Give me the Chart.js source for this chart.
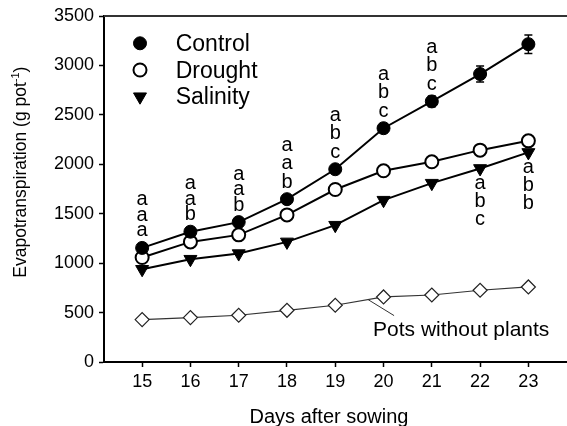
<!DOCTYPE html>
<html>
<head>
<meta charset="utf-8">
<style>
  html, body { margin: 0; padding: 0; background: #fff; }
  #wrap { width: 567px; height: 426px; position: relative; }
</style>
<script src="https://cdn.jsdelivr.net/npm/chart.js"></script>
</head>
<body>
<div id="wrap"><canvas id="etChart"></canvas></div>
<script>
// --- values ---
const days = [15, 16, 17, 18, 19, 20, 21, 22, 23];
const control = [1154, 1318, 1415, 1647, 1950, 2365, 2636, 2913, 3215];
const controlErr = [20, 25, 30, 30, 35, 45, 55, 80, 94];
const drought = [1057, 1215, 1286, 1488, 1745, 1934, 2025, 2143, 2237];
const salinity = [938, 1040, 1097, 1215, 1384, 1637, 1809, 1958, 2120];
const potsNoPlants = [429, 449, 473, 523, 574, 658, 678, 726, 759];
const yTicks = [0, 500, 1000, 1500, 2000, 2500, 3000, 3500];

const seriesNames = ['Control', 'Drought', 'Salinity'];
const potsLabel = 'Pots without plants';
const xTitle = 'Days after sowing';
const yTitle = 'Evapotranspiration (g pot';
const yTitleSup = '-1';

// significance letters, listed top to bottom
const lettersAbove = [
    ['a', 'a', 'a'], ['a', 'a', 'b'], ['a', 'a', 'b'], ['a', 'a', 'b'],
    ['a', 'b', 'c'], ['a', 'b', 'c'], ['a', 'b', 'c'], null, null
];
const lettersBelow = [null, null, null, null, null, null, null, ['a', 'b', 'c'], ['a', 'b', 'b']];

const FONT = "'Liberation Sans', Arial, Helvetica, sans-serif";

const xy = vals => days.map((d, i) => ({ x: d, y: vals[i] }));

// --- extra drawing: frame top, error bars, letters, legend, titles ---
const figureExtras = {
    id: 'figureExtras',
    afterDatasetsDraw(chart) {
        const { ctx, chartArea: area } = chart;
        const x = chart.scales.x, y = chart.scales.y;
        ctx.save();

        // top frame line (right side is cut off in the original)
        ctx.strokeStyle = '#333';
        ctx.lineWidth = 2;
        ctx.beginPath();
        ctx.moveTo(area.left, area.top);
        ctx.lineTo(area.right, area.top);
        ctx.stroke();

        // error bars on Control
        ctx.strokeStyle = '#000';
        ctx.lineWidth = 1.5;
        days.forEach((d, i) => {
            const px = x.getPixelForValue(d);
            const top = y.getPixelForValue(control[i] + controlErr[i]);
            const bot = y.getPixelForValue(control[i] - controlErr[i]);
            ctx.beginPath();
            ctx.moveTo(px, top); ctx.lineTo(px, bot);
            ctx.moveTo(px - 4, top); ctx.lineTo(px + 4, top);
            ctx.moveTo(px - 4, bot); ctx.lineTo(px + 4, bot);
            ctx.stroke();
        });

        // letters
        ctx.fillStyle = '#000';
        ctx.font = '20px ' + FONT;
        ctx.textAlign = 'center';
        ctx.textBaseline = 'alphabetic';
        days.forEach((d, i) => {
            const px = x.getPixelForValue(d);
            if (lettersAbove[i]) {
                const step = d <= 17 ? 15.5 : 18.5;
                const base = y.getPixelForValue(control[i]) - 11.5;
                lettersAbove[i].slice().reverse().forEach((t, k) => ctx.fillText(t, px, base - k * step));
            }
            if (lettersBelow[i]) {
                const base = y.getPixelForValue(salinity[i]) + 21;
                lettersBelow[i].forEach((t, k) => ctx.fillText(t, px, base + k * 18));
            }
        });

        // "Pots without plants" with leader line
        const lx = 19.68;
        const j = days.indexOf(19);
        const ly = potsNoPlants[j] + (potsNoPlants[j + 1] - potsNoPlants[j]) * (lx - days[j]);
        const sx = x.getPixelForValue(lx), sy = y.getPixelForValue(ly);
        ctx.strokeStyle = '#333';
        ctx.lineWidth = 1;
        ctx.beginPath();
        ctx.moveTo(sx, sy);
        ctx.lineTo(sx + 26, sy + 16);
        ctx.stroke();
        ctx.font = '21px ' + FONT;
        ctx.textAlign = 'left';
        ctx.fillText(potsLabel, sx + 5, sy + 36);

        // legend
        const lgX = 140, lgY = 43.3, lgStep = 26.7;
        chart.data.datasets.slice(0, 3).forEach((ds, k) => {
            const cy = lgY + k * lgStep;
            ctx.fillStyle = ds.pointBackgroundColor;
            ctx.strokeStyle = ds.pointBorderColor;
            ctx.lineWidth = ds.pointBorderWidth;
            Chart.helpers.drawPoint(ctx, {
                pointStyle: ds.pointStyle,
                radius: ds.pointRadius,
                rotation: ds.pointRotation || 0,
                borderWidth: ds.pointBorderWidth
            }, lgX, cy);
            ctx.fillStyle = '#000';
            ctx.font = '23px ' + FONT;
            ctx.textAlign = 'left';
            ctx.fillText(ds.label, 175.7, cy + 7.5);
        });

        // x title
        ctx.fillStyle = '#000';
        ctx.font = '20px ' + FONT;
        ctx.textAlign = 'center';
        ctx.fillText(xTitle, 329, 422.5);

        // y title with superscript
        ctx.translate(26, 277.7);
        ctx.rotate(-Math.PI / 2);
        ctx.textAlign = 'left';
        ctx.font = '17.5px ' + FONT;
        ctx.fillText(yTitle, 0, 0);
        let w = ctx.measureText(yTitle).width;
        ctx.font = '11px ' + FONT;
        ctx.fillText(yTitleSup, w, -7);
        w += ctx.measureText(yTitleSup).width;
        ctx.font = '17.5px ' + FONT;
        ctx.fillText(')', w, 0);

        ctx.restore();
    }
};

new Chart(document.getElementById('etChart'), {
    type: 'line',
    data: {
        datasets: [
            {
                label: seriesNames[0], data: xy(control),
                borderColor: '#000', borderWidth: 2,
                pointStyle: 'circle', pointRadius: 6.5,
                pointBackgroundColor: '#000', pointBorderColor: '#000', pointBorderWidth: 1
            },
            {
                label: seriesNames[1], data: xy(drought),
                borderColor: '#000', borderWidth: 2,
                pointStyle: 'circle', pointRadius: 6.5,
                pointBackgroundColor: '#fff', pointBorderColor: '#000', pointBorderWidth: 2
            },
            {
                label: seriesNames[2], data: xy(salinity),
                borderColor: '#000', borderWidth: 2,
                pointStyle: 'triangle', pointRotation: 180, pointRadius: 7.5,
                pointBackgroundColor: '#000', pointBorderColor: '#000', pointBorderWidth: 1
            },
            {
                label: potsLabel, data: xy(potsNoPlants),
                borderColor: '#333', borderWidth: 1.2,
                pointStyle: 'rectRot', pointRadius: 7,
                pointBackgroundColor: '#fff', pointBorderColor: '#222', pointBorderWidth: 1.2
            }
        ]
    },
    options: {
        responsive: true,
        maintainAspectRatio: false,
        animation: false,
        layout: { autoPadding: false, padding: { top: 16, right: 0, bottom: 0, left: 0 } },
        plugins: { legend: { display: false }, tooltip: { enabled: false } },
        scales: {
            x: {
                type: 'linear', min: 14.21, max: 23.8,
                afterBuildTicks: s => { s.ticks = days.map(v => ({ value: v })); },
                afterFit: s => { s.height = 64; },
                grid: { drawOnChartArea: false, drawTicks: true, tickLength: 5, tickColor: '#000', tickWidth: 1.5 },
                border: { color: '#000', width: 2 },
                ticks: { color: '#000', font: { family: FONT, size: 18 }, padding: 4, maxRotation: 0, autoSkip: false,
                         callback: v => String(v) }
            },
            y: {
                min: 0, max: 3500,
                afterBuildTicks: s => { s.ticks = yTicks.map(v => ({ value: v })); },
                afterFit: s => { s.width = 104; },
                grid: { drawOnChartArea: false, drawTicks: true, tickLength: 5, tickColor: '#000', tickWidth: 1.5 },
                border: { color: '#000', width: 2 },
                ticks: { color: '#000', font: { family: FONT, size: 18 }, padding: 5,
                         callback: v => String(v) }
            }
        }
    },
    plugins: [figureExtras]
});
</script>
</body>
</html>
